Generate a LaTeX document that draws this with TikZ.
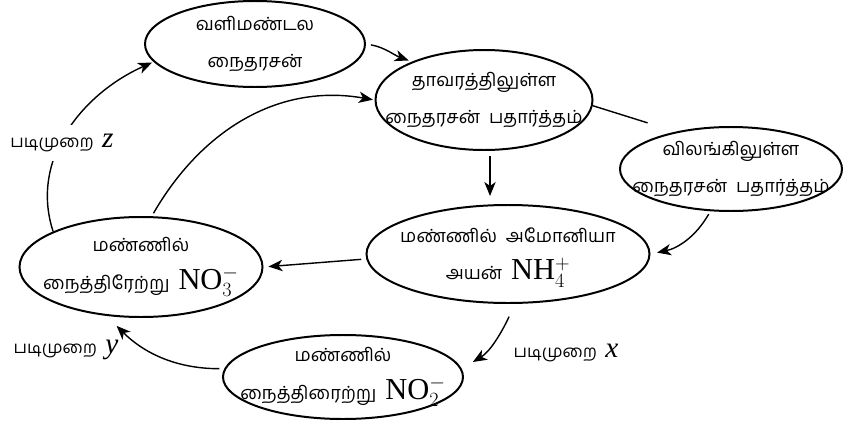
\documentclass[tikz,border=0pt]{standalone}
\usepackage{fontspec}
\newfontfamily\tamilfont[Script=Tamil]{Hind Madurai}
\newfontfamily\chemfont{Liberation Serif}
\usetikzlibrary{shapes.geometric,arrows.meta,calc}

\newcommand{\chemion}[3]{{\chemfont\fontsize{26}{26}\selectfont #1$_{#2}^{#3}$}}
\newcommand{\stepvar}[1]{{\chemfont\itshape\fontsize{25}{25}\selectfont #1}}

\tikzset{
    cyclebox/.style={draw, ellipse, line width=1.7pt, inner sep=0pt},
    cycletext/.style={align=center, inner sep=0pt, font=\tamilfont\fontsize{15.5}{32}\selectfont},
    cyclearrow/.style={-{Stealth[length=4.2mm,width=3.4mm,inset=1.2mm]}, line width=1.2pt},
    steplabel/.style={font=\tamilfont\fontsize{14.5}{18}\selectfont, inner sep=2pt}
}

\begin{document}
\begin{tikzpicture}[x=0.3mm, y=0.3mm]
    \useasboundingbox (0,0) rectangle (843,426);

    % stages of the cycle
    \node[cyclebox, minimum width=66mm, minimum height=25.8mm] (air) at (255,382) {};
    \node[cyclebox, minimum width=65.1mm, minimum height=30mm] (plant) at (484,326) {};
    \node[cyclebox, minimum width=66.6mm, minimum height=25.2mm] (animal) at (731,257) {};
    \node[cyclebox, minimum width=84.9mm, minimum height=29.4mm] (ammonium) at (508,172) {};
    \node[cyclebox, minimum width=72.9mm, minimum height=30mm] (nitrate) at (141,159) {};
    \node[cyclebox, minimum width=72mm, minimum height=25.2mm] (nitrite) at (343,49) {};

    \node[cycletext] (airtext) at (air) {வளிமண்டல\\நைதரசன்};
    \node[cycletext] (planttext) at (plant) {தாவரத்திலுள்ள\\நைதரசன்~ பதார்த்தம்};
    \node[cycletext] (animaltext) at (animal) {விலங்கிலுள்ள\\நைதரசன்~ பதார்த்தம்};
    \node[cycletext] (ammoniumtext) at ([yshift=-1mm]ammonium) {மண்ணில்~ அமோனியா\\அயன்~ \chemion{NH}{4}{+}};
    \node[cycletext] (nitratetext) at (nitrate) {மண்ணில்\\நைத்திரேற்று~ \chemion{NO}{3}{-}};
    \node[cycletext] (nitritetext) at (nitrite) {மண்ணில்\\நைத்திரைற்று~ \chemion{NO}{2}{-}};

    % connectors
    \draw[cyclearrow, shorten <=1.5mm, shorten >=1mm] (air.east) to[out=-10,in=160] (plant.152);
    \coordinate (drop) at ($(plant.south)+(6,0)$);
    \draw[cyclearrow, shorten <=1.5mm, shorten >=2.4mm] (drop) -- (drop |- ammonium.north);
    \draw[line width=1.2pt, shorten >=8.8mm] (plant.-3) -- (animal.146);
    \draw[cyclearrow, shorten <=1mm, shorten >=2mm] (animal.244) to[out=240,in=12] (ammonium.east);
    \draw[cyclearrow, shorten <=1.5mm, shorten >=1.5mm] (ammonium.182) -- (nitrate.east);
    \draw[cyclearrow, shorten <=4.2mm, shorten >=3.9mm] (ammonium.278) to[out=245,in=31] (nitrite.4);
    \draw[cyclearrow, shorten <=1.5mm, shorten >=4.2mm] (nitrite.176) to[out=180,in=315] (nitrate.235);
    \draw[cyclearrow, shorten >=0.5mm] (nitrate.158) to[out=108,in=204] (air.190);
    \draw[cyclearrow, shorten <=1mm, shorten >=0.5mm] (nitrate.78) to[out=60,in=170] (plant.180);

    % step labels
    \node[steplabel] (stepx) at (566,73) {படிமுறை~ \stepvar{x}};
    \node[steplabel] (stepy) at (66,76) {படிமுறை~ \stepvar{y}};
    \node[steplabel, fill=white, minimum height=11mm] (stepz) at (62,283) {படிமுறை~ \stepvar{z}};
\end{tikzpicture}
\end{document}
